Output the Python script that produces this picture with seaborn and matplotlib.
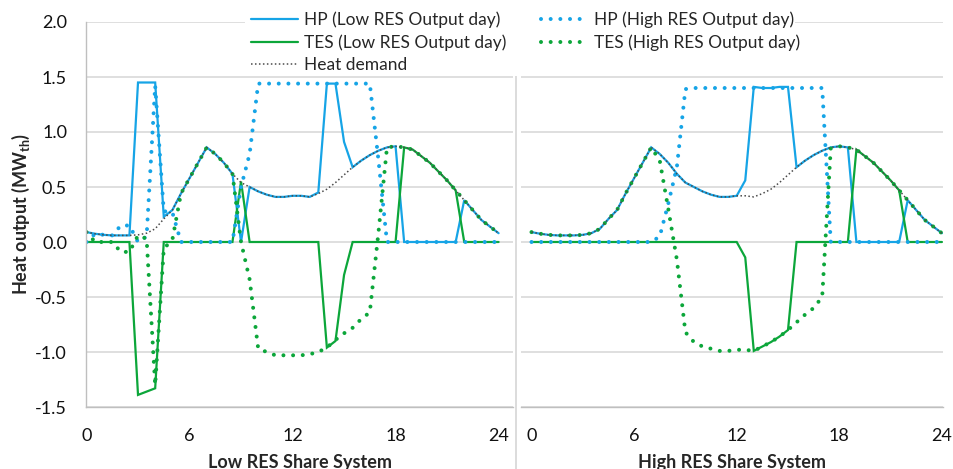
import numpy as np
import pandas as pd
import seaborn as sns
import matplotlib
matplotlib.use("Agg")
import matplotlib.pyplot as plt
from matplotlib.lines import Line2D
from matplotlib.patches import Rectangle

sns.set_style("white")
plt.rcParams["font.family"] = ["Lato", "DejaVu Sans"]
plt.rcParams["mathtext.fontset"] = "custom"
plt.rcParams["mathtext.rm"] = "Lato"
plt.rcParams["mathtext.bf"] = "Lato:bold"

# half-hourly time steps over one day
hours = np.arange(0, 24.5, 0.5)

heat_demand = [0.09, 0.075, 0.065, 0.06, 0.06, 0.06, 0.065, 0.08, 0.12, 0.21, 0.29, 0.44,
               0.58, 0.72, 0.86, 0.80, 0.72, 0.62, 0.54, 0.50, 0.46, 0.43, 0.41, 0.41,
               0.42, 0.42, 0.41, 0.44, 0.48, 0.54, 0.61, 0.68, 0.74, 0.79, 0.83, 0.86,
               0.87, 0.86, 0.84, 0.78, 0.72, 0.64, 0.56, 0.47, 0.38, 0.29, 0.20, 0.14, 0.08]

# Low RES share system
low_hp_lowday = [0.09, 0.075, 0.065, 0.06, 0.06, 0.06, 1.45, 1.45, 1.45, 0.23, 0.29, 0.44,
                 0.58, 0.72, 0.86, 0.80, 0.72, 0.62, 0.0, 0.50, 0.46, 0.43, 0.41, 0.41,
                 0.42, 0.42, 0.41, 0.45, 1.44, 1.44, 0.91, 0.68, 0.74, 0.79, 0.83, 0.86,
                 0.87, 0.0, 0.0, 0.0, 0.0, 0.0, 0.0, 0.0, 0.38, 0.29, 0.20, 0.14, 0.08]
low_tes_lowday = [0.0, 0.0, 0.0, 0.0, 0.0, 0.0, -1.39, -1.36, -1.33, 0.0, 0.0, 0.0,
                  0.0, 0.0, 0.0, 0.0, 0.0, 0.0, 0.55, 0.0, 0.0, 0.0, 0.0, 0.0,
                  0.0, 0.0, 0.0, 0.0, -0.96, -0.90, -0.30, 0.0, 0.0, 0.0, 0.0, 0.0,
                  0.0, 0.86, 0.84, 0.78, 0.72, 0.64, 0.56, 0.47, 0.0, 0.0, 0.0, 0.0, 0.0]
low_hp_highday = [0.0, 0.075, 0.065, 0.06, 0.15, 0.15, 0.0, 0.05, 1.42, 0.28, 0.27, 0.0,
                  0.0, 0.0, 0.0, 0.0, 0.0, 0.0, 0.50, 0.80, 1.44, 1.44, 1.44, 1.44,
                  1.44, 1.44, 1.44, 1.44, 1.44, 1.44, 1.44, 1.44, 1.44, 1.44, 0.75, 0.0,
                  0.0, 0.0, 0.0, 0.0, 0.0, 0.0, 0.0, 0.0, 0.0, 0.0, 0.0, 0.0, 0.0]
low_tes_highday = [0.09, 0.0, 0.0, 0.0, -0.09, -0.09, 0.06, 0.03, -1.30, -0.06, 0.02, 0.44,
                   0.58, 0.72, 0.86, 0.80, 0.72, 0.62, 0.0, -0.34, -0.97, -1.00, -1.03, -1.03,
                   -1.03, -1.03, -1.02, -1.00, -0.96, -0.89, -0.83, -0.78, -0.70, -0.64, 0.08, 0.86,
                   0.87, 0.86, 0.84, 0.78, 0.72, 0.64, 0.56, 0.47, 0.38, 0.29, 0.20, 0.14, 0.08]

# High RES share system
high_hp_lowday = [0.09, 0.075, 0.065, 0.06, 0.06, 0.06, 0.065, 0.08, 0.12, 0.21, 0.29, 0.44,
                  0.58, 0.72, 0.86, 0.80, 0.72, 0.62, 0.54, 0.50, 0.46, 0.43, 0.41, 0.41,
                  0.42, 0.56, 1.41, 1.40, 1.40, 1.41, 1.41, 0.68, 0.74, 0.79, 0.83, 0.86,
                  0.87, 0.86, 0.0, 0.0, 0.0, 0.0, 0.0, 0.0, 0.38, 0.29, 0.20, 0.14, 0.08]
high_tes_lowday = [0.0, 0.0, 0.0, 0.0, 0.0, 0.0, 0.0, 0.0, 0.0, 0.0, 0.0, 0.0,
                   0.0, 0.0, 0.0, 0.0, 0.0, 0.0, 0.0, 0.0, 0.0, 0.0, 0.0, 0.0,
                   0.0, -0.14, -0.99, -0.95, -0.91, -0.86, -0.80, 0.0, 0.0, 0.0, 0.0, 0.0,
                   0.0, 0.0, 0.84, 0.78, 0.72, 0.64, 0.56, 0.47, 0.0, 0.0, 0.0, 0.0, 0.0]
high_hp_highday = [0.0, 0.0, 0.0, 0.0, 0.0, 0.0, 0.0, 0.0, 0.0, 0.0, 0.0, 0.0,
                   0.0, 0.0, 0.0, 0.05, 0.35, 0.68, 1.39, 1.40, 1.40, 1.40, 1.40, 1.40,
                   1.40, 1.40, 1.40, 1.40, 1.40, 1.40, 1.40, 1.40, 1.40, 1.40, 1.40, 0.0,
                   0.0, 0.0, 0.0, 0.0, 0.0, 0.0, 0.0, 0.0, 0.0, 0.0, 0.0, 0.0, 0.0]
high_tes_highday = [0.09, 0.075, 0.065, 0.06, 0.06, 0.06, 0.065, 0.08, 0.12, 0.21, 0.29, 0.44,
                    0.58, 0.72, 0.86, 0.74, 0.30, -0.16, -0.82, -0.91, -0.95, -0.97, -0.99, -0.99,
                    -0.98, -0.98, -0.99, -0.95, -0.91, -0.86, -0.80, -0.73, -0.66, -0.60, -0.50, 0.85,
                    0.87, 0.86, 0.84, 0.78, 0.72, 0.64, 0.56, 0.47, 0.38, 0.29, 0.20, 0.14, 0.08]

panel_titles = ["Low RES Share System", "High RES Share System"]
x_ticks = list(range(0, 25, 2))
y_ticks = [-1.5, -1.0, -0.5, 0.0, 0.5, 1.0, 1.5, 2.0]

BLUE = "#16A4E6"
GREEN = "#0CA63A"
GREY_LINE = "#4A4A4A"
GRID = "#D9D9D9"
AXIS = "#BFBFBF"

solid_kw = dict(lw=1.6, linestyle="-", solid_joinstyle="miter")
dot_kw = dict(lw=2.9, linestyle=(0, (0.001, 2.4)), dash_capstyle="round")
demand_kw = dict(lw=1.1, linestyle=(0, (1.0, 1.6)), color=GREY_LINE)

W, H = 954, 469
fig = plt.figure(figsize=(W / 100, H / 100), dpi=100)

ax_bottom = 62 / H
ax_height = 385 / H
axL = fig.add_axes([86.5 / W, ax_bottom, 426.5 / W, ax_height])
axR = fig.add_axes([521 / W, ax_bottom, 422 / W, ax_height])


def draw_panel(ax, hp_low, tes_low, hp_high, tes_high):
    sns.lineplot(x=hours, y=hp_low, ax=ax, color=BLUE, estimator=None, sort=False, **solid_kw)
    sns.lineplot(x=hours, y=tes_low, ax=ax, color=GREEN, estimator=None, sort=False, **solid_kw)
    sns.lineplot(x=hours, y=hp_high, ax=ax, color=BLUE, estimator=None, sort=False, **dot_kw)
    sns.lineplot(x=hours, y=tes_high, ax=ax, color=GREEN, estimator=None, sort=False, **dot_kw)
    sns.lineplot(x=hours, y=heat_demand, ax=ax, estimator=None, sort=False, **demand_kw)


draw_panel(axL, low_hp_lowday, low_tes_lowday, low_hp_highday, low_tes_highday)
draw_panel(axR, high_hp_lowday, high_tes_lowday, high_hp_highday, high_tes_highday)

axL.set_xlim(0, 426.5 / 17.17)
axR.set_xlim(-10.5 / 17.1, 411.5 / 17.1)

for ax, title in zip([axL, axR], panel_titles):
    ax.set_ylim(-1.5, 2.0)
    ax.set_yticks(y_ticks)
    ax.yaxis.grid(True, color=GRID, lw=1.2)
    ax.xaxis.grid(False)
    ax.set_axisbelow(True)
    ax.set_xticks(x_ticks)
    ax.set_xticklabels([str(h) if h % 6 == 0 else "" for h in x_ticks])
    ax.tick_params(axis="x", direction="out", length=5, width=1, color=AXIS,
                   labelsize=13, pad=10, labelcolor="#111111")
    ax.tick_params(axis="y", length=0, labelsize=13, pad=14, labelcolor="#111111")
    for side in ["top", "right", "left"]:
        ax.spines[side].set_visible(False)
    ax.spines["bottom"].set_color(AXIS)
    ax.spines["bottom"].set_linewidth(1)
    ax.set_xlabel(title, fontsize=13, fontweight="bold", labelpad=7)
    ax.set_ylabel("")

axL.spines["left"].set_visible(True)
axL.spines["left"].set_color(AXIS)
axL.spines["left"].set_linewidth(1)
axL.set_yticklabels([f"{v:.1f}" for v in y_ticks])
axR.set_yticklabels([])
axL.set_ylabel(r"Heat output (MW$_\mathbf{th}$)", fontsize=13, fontweight="bold", labelpad=2)

# separator between the two systems
fig.add_artist(Line2D([516 / W, 516 / W], [0, 1 - 76 / H], transform=fig.transFigure,
                      color=GRID, lw=1.3, zorder=2))
# white backing behind the legend
fig.add_artist(Rectangle((245 / W, 1 - 76 / H), 550 / W, 76 / H, transform=fig.transFigure,
                         facecolor="white", edgecolor="none", zorder=3))

handles = [
    Line2D([], [], color=BLUE, **solid_kw),
    Line2D([], [], color=GREEN, **solid_kw),
    Line2D([], [], **demand_kw),
    Line2D([], [], color=BLUE, **dot_kw),
    Line2D([], [], color=GREEN, **dot_kw),
]
labels = ["HP (Low RES Output day)", "TES (Low RES Output day)", "Heat demand",
          "HP (High RES Output day)", "TES (High RES Output day)"]
leg = fig.legend(handles, labels, loc="upper left", bbox_to_anchor=(246 / W, 1 - 6 / H),
                 ncol=2, frameon=False, fontsize=12.5, handlelength=2.7, handletextpad=0.35,
                 columnspacing=2.0, labelspacing=0.36, borderaxespad=0, borderpad=0.3)
leg.set_zorder(5)

fig.savefig("out.png", dpi=100)
